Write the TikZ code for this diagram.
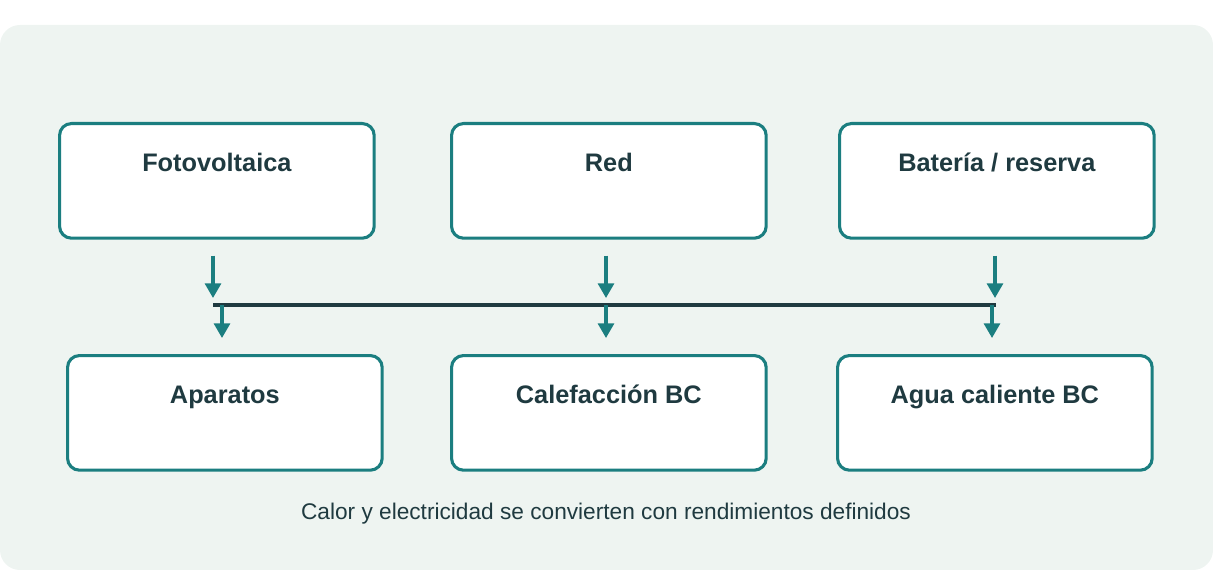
\documentclass[tikz,border=0pt]{standalone}
\usepackage{fontspec}
\setmainfont{Liberation Sans}
\usetikzlibrary{positioning,arrows.meta}
\definecolor{bgpanel}{HTML}{EEF4F1}
\definecolor{tealline}{HTML}{1B7E80}
\definecolor{darkink}{HTML}{1F3A40}
\tikzset{
srcbox/.style={
  draw=tealline,
  line width=2.3pt,
  fill=white,
  rounded corners=9pt,
  minimum width=236pt,
  minimum height=86pt,
  text=darkink,
  font=\fontsize{19}{22}\selectfont\bfseries,
  text height=14pt,
  text depth=28pt,
  anchor=north west
  },
flowarrow/.style={-{Triangle[length=11pt,width=12pt]},draw=tealline,line width=2.3pt}
}
\begin{document}
\begin{tikzpicture}[x=0.75pt,y=-0.75pt]
\useasboundingbox (0,0) rectangle (1213,570);
\fill[bgpanel,rounded corners=15pt] (0,25) rectangle (1213,570);

\node[srcbox] (foto) at (58,122) {Fotovoltaica};
\node[srcbox] (red) at (450,122) {Red};
\node[srcbox] (bat) at (838,122) {Batería / reserva};

\node[srcbox] (apar) at (66,354) {Aparatos};
\node[srcbox] (calef) at (450,354) {Calefacción BC};
\node[srcbox] (agua) at (836,354) {Agua caliente BC};

\coordinate (busl) at (213,305);
\coordinate (busr) at (996,305);
\draw[darkink,line width=2.6pt] (busl) -- (busr);

\draw[flowarrow] ([yshift=-12pt]foto.south -| 213,0) -- (213,298);
\draw[flowarrow] ([yshift=-12pt]red.south -| 606,0) -- (606,298);
\draw[flowarrow] ([yshift=-12pt]bat.south -| 995,0) -- (995,298);

\draw[flowarrow] (222,305) -- ([yshift=12pt]apar.north -| 222,0);
\draw[flowarrow] (606,305) -- ([yshift=12pt]calef.north -| 606,0);
\draw[flowarrow] (992,305) -- ([yshift=12pt]agua.north -| 992,0);

\node[text=darkink,font=\fontsize{17}{20}\selectfont] (note) at (606,514)
  {Calor y electricidad se convierten con rendimientos definidos};
\end{tikzpicture}
\end{document}
